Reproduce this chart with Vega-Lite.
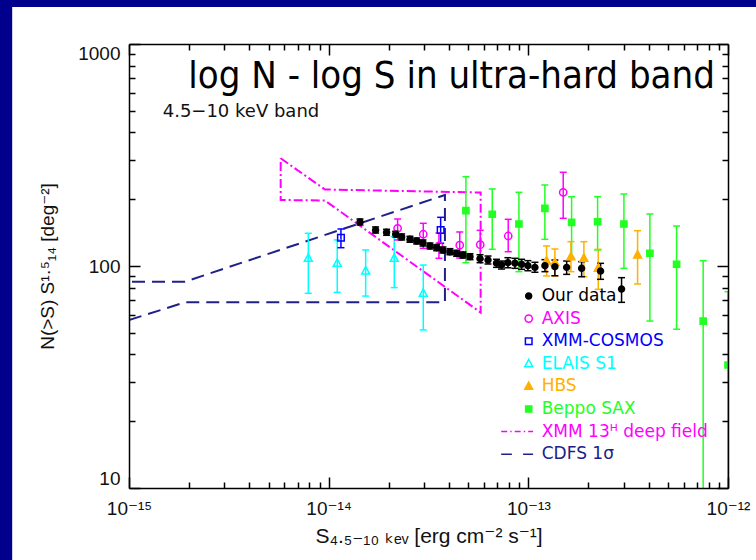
{
  "$schema": "https://vega.github.io/schema/vega-lite/v6.json",
  "width": 599,
  "height": 444,
  "autosize": {"type": "none"},
  "padding": {"left": 129, "top": 44, "right": 28, "bottom": 72},
  "background": "#00008C",
  "config": {"view": {"stroke": null}, "axis": {"grid": false}},
  "datasets": {
    "pts": [
      {"series": "Beppo SAX", "x": 4.868e-14, "y": 177.5, "lo": 103.5, "hi": 252.5},
      {"series": "Beppo SAX", "x": 6.595e-14, "y": 171.0, "lo": 118.9, "hi": 222.3},
      {"series": "Beppo SAX", "x": 8.972e-14, "y": 154.6, "lo": 94.3, "hi": 214.8},
      {"series": "Beppo SAX", "x": 1.21e-13, "y": 181.9, "lo": 131.9, "hi": 231.7},
      {"series": "Beppo SAX", "x": 1.647e-13, "y": 157.3, "lo": 108.3, "hi": 205.2},
      {"series": "Beppo SAX", "x": 2.223e-13, "y": 158.3, "lo": 118.1, "hi": 205.2},
      {"series": "Beppo SAX", "x": 3.011e-13, "y": 154.6, "lo": 97.6, "hi": 211.0},
      {"series": "Beppo SAX", "x": 4.063e-13, "y": 114.1, "lo": 56.5, "hi": 171.5},
      {"series": "Beppo SAX", "x": 5.527e-13, "y": 101.8, "lo": 51.9, "hi": 151.4},
      {"series": "Beppo SAX", "x": 7.51e-13, "y": 56.5, "lo": 5, "hi": 105.7},
      {"series": "Beppo SAX", "x": 1.0e-12, "y": 35.8, "lo": 5, "hi": 76.6},
      {"series": "HBS", "x": 1.234e-13, "y": 105.3, "lo": 90.2, "hi": 123.1},
      {"series": "HBS", "x": 1.358e-13, "y": 103.7, "lo": 90.2, "hi": 119.3},
      {"series": "HBS", "x": 1.634e-13, "y": 110.1, "lo": 94.3, "hi": 128.7},
      {"series": "HBS", "x": 1.898e-13, "y": 108.3, "lo": 89.5, "hi": 128.7},
      {"series": "HBS", "x": 2.239e-13, "y": 97.6, "lo": 78.5, "hi": 118.9},
      {"series": "HBS", "x": 3.525e-13, "y": 112.1, "lo": 83.0, "hi": 144.2},
      {"series": "ELAIS S1", "x": 7.906e-15, "y": 108.3, "lo": 75.3, "hi": 140.4},
      {"series": "ELAIS S1", "x": 1.104e-14, "y": 102.8, "lo": 76.1, "hi": 131.0},
      {"series": "ELAIS S1", "x": 1.532e-14, "y": 94.9, "lo": 73.2, "hi": 118.1},
      {"series": "ELAIS S1", "x": 2.13e-14, "y": 108.3, "lo": 79.9, "hi": 135.5},
      {"series": "ELAIS S1", "x": 2.977e-14, "y": 75.3, "lo": 51.5, "hi": 101.0},
      {"series": "XMM-COSMOS", "x": 1.152e-14, "y": 134.1, "lo": 120.9, "hi": 146.8},
      {"series": "XMM-COSMOS", "x": 3.638e-14, "y": 145.3, "lo": 126.6, "hi": 165.7},
      {"series": "AXIS", "x": 2.215e-14, "y": 147.8, "lo": 131.0, "hi": 162.8},
      {"series": "AXIS", "x": 2.977e-14, "y": 139.0, "lo": 120.1, "hi": 155.7},
      {"series": "AXIS", "x": 3.567e-14, "y": 123.1, "lo": 108.3, "hi": 140.8},
      {"series": "AXIS", "x": 4.534e-14, "y": 124.1, "lo": 108.6, "hi": 142.3},
      {"series": "AXIS", "x": 5.742e-14, "y": 124.7, "lo": 107.5, "hi": 144.8},
      {"series": "AXIS", "x": 7.93e-14, "y": 136.5, "lo": 116.0, "hi": 162.3},
      {"series": "AXIS", "x": 1.495e-13, "y": 214.8, "lo": 164.0, "hi": 264.3},
      {"series": "Our data", "x": 1.435e-14, "y": 157.8, "lo": 153.0, "hi": 162.8},
      {"series": "Our data", "x": 1.718e-14, "y": 145.2, "lo": 140.8, "hi": 149.9},
      {"series": "Our data", "x": 1.950e-14, "y": 141.9, "lo": 137.5, "hi": 146.3},
      {"series": "Our data", "x": 2.166e-14, "y": 139.0, "lo": 134.7, "hi": 143.3},
      {"series": "Our data", "x": 2.321e-14, "y": 135.2, "lo": 131.0, "hi": 139.4},
      {"series": "Our data", "x": 2.553e-14, "y": 131.9, "lo": 127.9, "hi": 136.1},
      {"series": "Our data", "x": 2.760e-14, "y": 129.6, "lo": 125.7, "hi": 133.7},
      {"series": "Our data", "x": 2.967e-14, "y": 127.0, "lo": 123.1, "hi": 131.0},
      {"series": "Our data", "x": 3.216e-14, "y": 123.1, "lo": 119.3, "hi": 126.9},
      {"series": "Our data", "x": 3.475e-14, "y": 120.9, "lo": 117.2, "hi": 124.7},
      {"series": "Our data", "x": 3.735e-14, "y": 118.0, "lo": 114.5, "hi": 121.8},
      {"series": "Our data", "x": 4.048e-14, "y": 115.9, "lo": 112.4, "hi": 119.7},
      {"series": "Our data", "x": 4.374e-14, "y": 114.0, "lo": 110.6, "hi": 117.7},
      {"series": "Our data", "x": 4.708e-14, "y": 112.1, "lo": 108.6, "hi": 115.6},
      {"series": "Our data", "x": 5.102e-14, "y": 110.2, "lo": 106.8, "hi": 113.6},
      {"series": "Our data", "x": 5.728e-14, "y": 107.9, "lo": 103.5, "hi": 112.4},
      {"series": "Our data", "x": 6.281e-14, "y": 106.4, "lo": 102.1, "hi": 110.9},
      {"series": "Our data", "x": 6.93e-14, "y": 102.9, "lo": 98.6, "hi": 107.2},
      {"series": "Our data", "x": 7.34e-14, "y": 101.1, "lo": 96.9, "hi": 105.3},
      {"series": "Our data", "x": 7.90e-14, "y": 103.5, "lo": 98.2, "hi": 109.0},
      {"series": "Our data", "x": 8.57e-14, "y": 102.9, "lo": 97.6, "hi": 108.3},
      {"series": "Our data", "x": 9.25e-14, "y": 101.8, "lo": 96.6, "hi": 107.2},
      {"series": "Our data", "x": 9.95e-14, "y": 100.3, "lo": 95.2, "hi": 105.7},
      {"series": "Our data", "x": 1.079e-13, "y": 98.6, "lo": 93.7, "hi": 103.9},
      {"series": "Our data", "x": 1.211e-13, "y": 100.3, "lo": 94.3, "hi": 106.8},
      {"series": "Our data", "x": 1.358e-13, "y": 99.3, "lo": 90.4, "hi": 106.4},
      {"series": "Our data", "x": 1.556e-13, "y": 98.6, "lo": 91.7, "hi": 105.3},
      {"series": "Our data", "x": 1.849e-13, "y": 97.6, "lo": 89.5, "hi": 104.6},
      {"series": "Our data", "x": 2.30e-13, "y": 94.9, "lo": 87.1, "hi": 102.8},
      {"series": "Our data", "x": 2.93e-13, "y": 78.7, "lo": 68.6, "hi": 88.6}
    ],
    "poly": [
      {"series": "XMM 13ᴴ deep field", "ord": 1, "x": 5.75e-15, "y": 305.6},
      {"series": "XMM 13ᴴ deep field", "ord": 2, "x": 9.583e-15, "y": 221.1},
      {"series": "XMM 13ᴴ deep field", "ord": 3, "x": 5.77e-14, "y": 214.3},
      {"series": "XMM 13ᴴ deep field", "ord": 4, "x": 5.77e-14, "y": 61.7},
      {"series": "XMM 13ᴴ deep field", "ord": 5, "x": 9.583e-15, "y": 197.2},
      {"series": "XMM 13ᴴ deep field", "ord": 6, "x": 5.75e-15, "y": 198.3},
      {"series": "XMM 13ᴴ deep field", "ord": 7, "x": 5.75e-15, "y": 305.6},
      {"series": "CDFS 1σ", "ord": 1, "x": 1e-15, "y": 57.1},
      {"series": "CDFS 1σ", "ord": 2, "x": 1.907e-15, "y": 68.6},
      {"series": "CDFS 1σ", "ord": 3, "x": 3.822e-14, "y": 68.6},
      {"series": "CDFS 1σ", "ord": 4, "x": 3.822e-14, "y": 208.9},
      {"series": "CDFS 1σ", "ord": 5, "x": 1.907e-15, "y": 85.0},
      {"series": "CDFS 1σ", "ord": 6, "x": 1e-15, "y": 85.0}
    ]
  },
  "resolve": {"axis": {"x": "independent", "y": "independent"}},
  "layer": [
    {
      "data": {"values": [{}]},
      "mark": {"type": "rect", "fill": "white", "clip": false},
      "encoding": {
        "x": {"datum": 2.6e-16, "type": "quantitative", "scale": {"type": "log", "domain": [1e-15, 1e-12]}, "axis": null},
        "x2": {"datum": 1e-10},
        "y": {"datum": 1468, "type": "quantitative", "scale": {"type": "log", "domain": [10, 1000]}, "axis": null},
        "y2": {"datum": 1}
      }
    },
    {
      "data": {"name": "poly"},
      "mark": {"type": "line", "strokeWidth": 2, "clip": true},
      "encoding": {
        "x": {"field": "x", "type": "quantitative", "scale": {"type": "log", "domain": [1e-15, 1e-12]},
          "axis": {"orient": "top", "values": [1e-15,2e-15,3e-15,4e-15,5e-15,6e-15,7e-15,8e-15,9e-15,1e-14,2e-14,3e-14,4e-14,5e-14,6e-14,7e-14,8e-14,9e-14,1e-13,2e-13,3e-13,4e-13,5e-13,6e-13,7e-13,8e-13,9e-13,1e-12],
            "labels": false, "title": null, "grid": false,
            "tickSize": {"condition": {"test": "abs(log(datum.value)/LN10 - round(log(datum.value)/LN10)) < 0.001", "value": -11}, "value": -6},
            "tickColor": "black", "tickWidth": 1.5, "domainColor": "black", "domainWidth": 1.5, "zindex": 1}},
        "y": {"field": "y", "type": "quantitative", "scale": {"type": "log", "domain": [10, 1000]},
          "axis": {"orient": "right", "values": [10,20,30,40,50,60,70,80,90,100,200,300,400,500,600,700,800,900,1000],
            "labels": false, "title": null, "grid": false,
            "tickSize": {"condition": {"test": "abs(log(datum.value)/LN10 - round(log(datum.value)/LN10)) < 0.001", "value": -11}, "value": -6},
            "tickColor": "black", "tickWidth": 1.5, "domainColor": "black", "domainWidth": 1.5, "zindex": 1}},
        "order": {"field": "ord", "type": "quantitative"},
        "color": {"field": "series", "type": "nominal",
          "scale": {"domain": ["CDFS 1σ", "XMM 13ᴴ deep field", "Beppo SAX", "HBS", "ELAIS S1", "XMM-COSMOS", "AXIS", "Our data"],
            "range": ["#202088", "#FF00FF", "#22FF22", "#FFB000", "#00FFFF", "#0000FF", "#FF00FF", "#000000"]}, "legend": null},
        "strokeDash": {"field": "series", "type": "nominal",
          "scale": {"domain": ["XMM 13ᴴ deep field", "CDFS 1σ"], "range": [[9, 3, 2, 3], [13, 7]]}, "legend": null}
      }
    },
    {
      "data": {"name": "pts"},
      "mark": {"type": "rule", "strokeWidth": 1.5, "clip": true},
      "encoding": {
        "x": {"field": "x", "type": "quantitative", "scale": {"type": "log", "domain": [1e-15, 1e-12]}, "axis": null},
        "y": {"field": "lo", "type": "quantitative", "scale": {"type": "log", "domain": [10, 1000]}, "axis": null},
        "y2": {"field": "hi"},
        "color": {"field": "series", "type": "nominal",
          "scale": {"domain": ["CDFS 1σ", "XMM 13ᴴ deep field", "Beppo SAX", "HBS", "ELAIS S1", "XMM-COSMOS", "AXIS", "Our data"],
            "range": ["#202088", "#FF00FF", "#22FF22", "#FFB000", "#00FFFF", "#0000FF", "#FF00FF", "#000000"]}, "legend": null}
      }
    },
    {
      "data": {"name": "pts"},
      "mark": {"type": "point", "shape": "M-1,0H1", "size": 49, "strokeWidth": 1.5, "opacity": 1, "filled": false, "clip": true},
      "encoding": {
        "x": {"field": "x", "type": "quantitative", "scale": {"type": "log", "domain": [1e-15, 1e-12]}, "axis": null},
        "y": {"field": "lo", "type": "quantitative", "scale": {"type": "log", "domain": [10, 1000]}, "axis": null},
        "color": {"field": "series", "type": "nominal",
          "scale": {"domain": ["CDFS 1σ", "XMM 13ᴴ deep field", "Beppo SAX", "HBS", "ELAIS S1", "XMM-COSMOS", "AXIS", "Our data"],
            "range": ["#202088", "#FF00FF", "#22FF22", "#FFB000", "#00FFFF", "#0000FF", "#FF00FF", "#000000"]}, "legend": null}
      }
    },
    {
      "data": {"name": "pts"},
      "mark": {"type": "point", "shape": "M-1,0H1", "size": 49, "strokeWidth": 1.5, "opacity": 1, "filled": false, "clip": true},
      "encoding": {
        "x": {"field": "x", "type": "quantitative", "scale": {"type": "log", "domain": [1e-15, 1e-12]}, "axis": null},
        "y": {"field": "hi", "type": "quantitative", "scale": {"type": "log", "domain": [10, 1000]}, "axis": null},
        "color": {"field": "series", "type": "nominal",
          "scale": {"domain": ["CDFS 1σ", "XMM 13ᴴ deep field", "Beppo SAX", "HBS", "ELAIS S1", "XMM-COSMOS", "AXIS", "Our data"],
            "range": ["#202088", "#FF00FF", "#22FF22", "#FFB000", "#00FFFF", "#0000FF", "#FF00FF", "#000000"]}, "legend": null}
      }
    },
    {
      "data": {"name": "pts"},
      "mark": {"type": "point", "filled": true, "size": 484, "strokeWidth": 1.5, "opacity": 1, "clip": true},
      "encoding": {
        "x": {"field": "x", "type": "quantitative", "scale": {"type": "log", "domain": [1e-15, 1e-12]},
          "axis": {"orient": "bottom", "values": [1e-15,2e-15,3e-15,4e-15,5e-15,6e-15,7e-15,8e-15,9e-15,1e-14,2e-14,3e-14,4e-14,5e-14,6e-14,7e-14,8e-14,9e-14,1e-13,2e-13,3e-13,4e-13,5e-13,6e-13,7e-13,8e-13,9e-13,1e-12],
            "labelExpr": "datum.value == 1e-15 ? '10⁻¹⁵' : datum.value == 1e-14 ? '10⁻¹⁴' : datum.value == 1e-13 ? '10⁻¹³' : datum.value == 1e-12 ? '10⁻¹²' : ''",
            "labelFlush": false, "labelOverlap": false, "grid": false,
            "tickSize": {"condition": {"test": "abs(log(datum.value)/LN10 - round(log(datum.value)/LN10)) < 0.001", "value": -11}, "value": -6},
            "tickColor": "black", "tickWidth": 1.5, "domainColor": "black", "domainWidth": 1.5,
            "labelFont": "Liberation Sans, DejaVu Sans, sans-serif", "labelFontSize": 19, "labelColor": "#111111", "labelPadding": 22,
            "title": "S₄.₅₋₁₀ ₖₑᵥ [erg cm⁻² s⁻¹]", "titleFont": "Liberation Sans, DejaVu Sans, sans-serif", "titleFontSize": 21, "titleFontWeight": "normal", "titleColor": "#111111", "titlePadding": 2, "zindex": 1}},
        "y": {"field": "y", "type": "quantitative", "scale": {"type": "log", "domain": [10, 1000]},
          "axis": {"orient": "left", "values": [10,20,30,40,50,60,70,80,90,100,200,300,400,500,600,700,800,900,1000],
            "labelExpr": "datum.value == 10 ? '10' : datum.value == 100 ? '100' : datum.value == 1000 ? '1000' : ''",
            "labelFlush": true, "labelFlushOffset": 0, "labelOverlap": false, "grid": false,
            "tickSize": {"condition": {"test": "abs(log(datum.value)/LN10 - round(log(datum.value)/LN10)) < 0.001", "value": -11}, "value": -6},
            "tickColor": "black", "tickWidth": 1.5, "domainColor": "black", "domainWidth": 1.5,
            "labelFont": "Liberation Sans, DejaVu Sans, sans-serif", "labelFontSize": 19, "labelColor": "#111111", "labelPadding": 20,
            "title": "N(>S) S¹·⁵₁₄ [deg⁻²]", "titleFont": "Liberation Sans, DejaVu Sans, sans-serif", "titleFontSize": 19, "titleFontWeight": "normal", "titleColor": "#111111", "titlePadding": 20, "zindex": 1}},
        "stroke": {"field": "series", "type": "nominal",
          "scale": {"domain": ["Our data", "AXIS", "XMM-COSMOS", "ELAIS S1", "HBS", "Beppo SAX", "XMM 13ᴴ deep field", "CDFS 1σ"],
            "range": ["#000000", "#FF00FF", "#0000FF", "#00FFFF", "#FFB000", "#22FF22", "#FF00FF", "#202088"]},
          "legend": {"orient": "none", "legendX": 387.7, "legendY": 240, "title": null, "symbolSize": 484, "symbolStrokeWidth": 1.5, "symbolOffset": 0, "labelFont": "DejaVu Sans", "labelFontSize": 17, "labelOffset": 1, "rowPadding": 2.6, "padding": 0, "labelLimit": 300, "zindex": 2,
            "labelColor": {"expr": "scale('stroke', datum.value)"}}},
        "fill": {"field": "series", "type": "nominal",
          "scale": {"domain": ["Our data", "AXIS", "XMM-COSMOS", "ELAIS S1", "HBS", "Beppo SAX", "XMM 13ᴴ deep field", "CDFS 1σ"],
            "range": ["#000000", "transparent", "transparent", "transparent", "#FFB000", "#22FF22", "transparent", "transparent"]},
          "legend": {"orient": "none", "legendX": 387.7, "legendY": 240, "title": null, "symbolSize": 484, "symbolStrokeWidth": 1.5, "symbolOffset": 0, "labelFont": "DejaVu Sans", "labelFontSize": 17, "labelOffset": 1, "rowPadding": 2.6, "padding": 0, "labelLimit": 300, "zindex": 2,
            "labelColor": {"expr": "scale('stroke', datum.value)"}}},
        "shape": {"field": "series", "type": "nominal",
          "scale": {"domain": ["Our data", "AXIS", "XMM-COSMOS", "ELAIS S1", "HBS", "Beppo SAX", "XMM 13ᴴ deep field", "CDFS 1σ"],
            "range": [
              "M0.27,0A0.27,0.27,0,1,1,-0.27,0A0.27,0.27,0,1,1,0.27,0Z",
              "M0.33,0A0.33,0.33,0,1,1,-0.33,0A0.33,0.33,0,1,1,0.33,0Z",
              "M-0.3,-0.3H0.3V0.3H-0.3Z",
              "M0,-0.4L0.36,0.27H-0.36Z",
              "M0,-0.4L0.36,0.27H-0.36Z",
              "M-0.28,-0.28H0.28V0.28H-0.28Z",
              "M-2.5,0H-1.95M-1.68,0H-1.55M-1.27,0H-0.73M-0.45,0H-0.32M-0.05,0H0.4",
              "M-2.5,0H-1.53M-0.51,0H0.4"
            ]},
          "legend": {"orient": "none", "legendX": 387.7, "legendY": 240, "title": null, "symbolSize": 484, "symbolStrokeWidth": 1.5, "symbolOffset": 0, "labelFont": "DejaVu Sans", "labelFontSize": 17, "labelOffset": 1, "rowPadding": 2.6, "padding": 0, "labelLimit": 300, "zindex": 2,
            "labelColor": {"expr": "scale('stroke', datum.value)"}}}
      }
    },
    {
      "data": {"values": [{"t": "4.5−10 keV band"}]},
      "mark": {"type": "text", "align": "left", "baseline": "alphabetic", "font": "DejaVu Sans", "fontSize": 18, "color": "#111111"},
      "encoding": {
        "x": {"datum": 1.475e-15, "type": "quantitative", "scale": {"type": "log", "domain": [1e-15, 1e-12]}, "axis": null},
        "y": {"datum": 467.6, "type": "quantitative", "scale": {"type": "log", "domain": [10, 1000]}, "axis": null},
        "text": {"field": "t"}
      }
    },
    {
      "data": {"values": [{"t": "log N - log S in ultra-hard band"}]},
      "mark": {"type": "text", "align": "right", "baseline": "alphabetic", "font": "DejaVu Sans Condensed, Liberation Sans, sans-serif", "fontSize": 38, "color": "#000000"},
      "encoding": {
        "x": {"datum": 8.6e-13, "type": "quantitative", "scale": {"type": "log", "domain": [1e-15, 1e-12]}, "axis": null},
        "y": {"datum": 635.6, "type": "quantitative", "scale": {"type": "log", "domain": [10, 1000]}, "axis": null},
        "text": {"field": "t"}
      }
    }
  ]
}
